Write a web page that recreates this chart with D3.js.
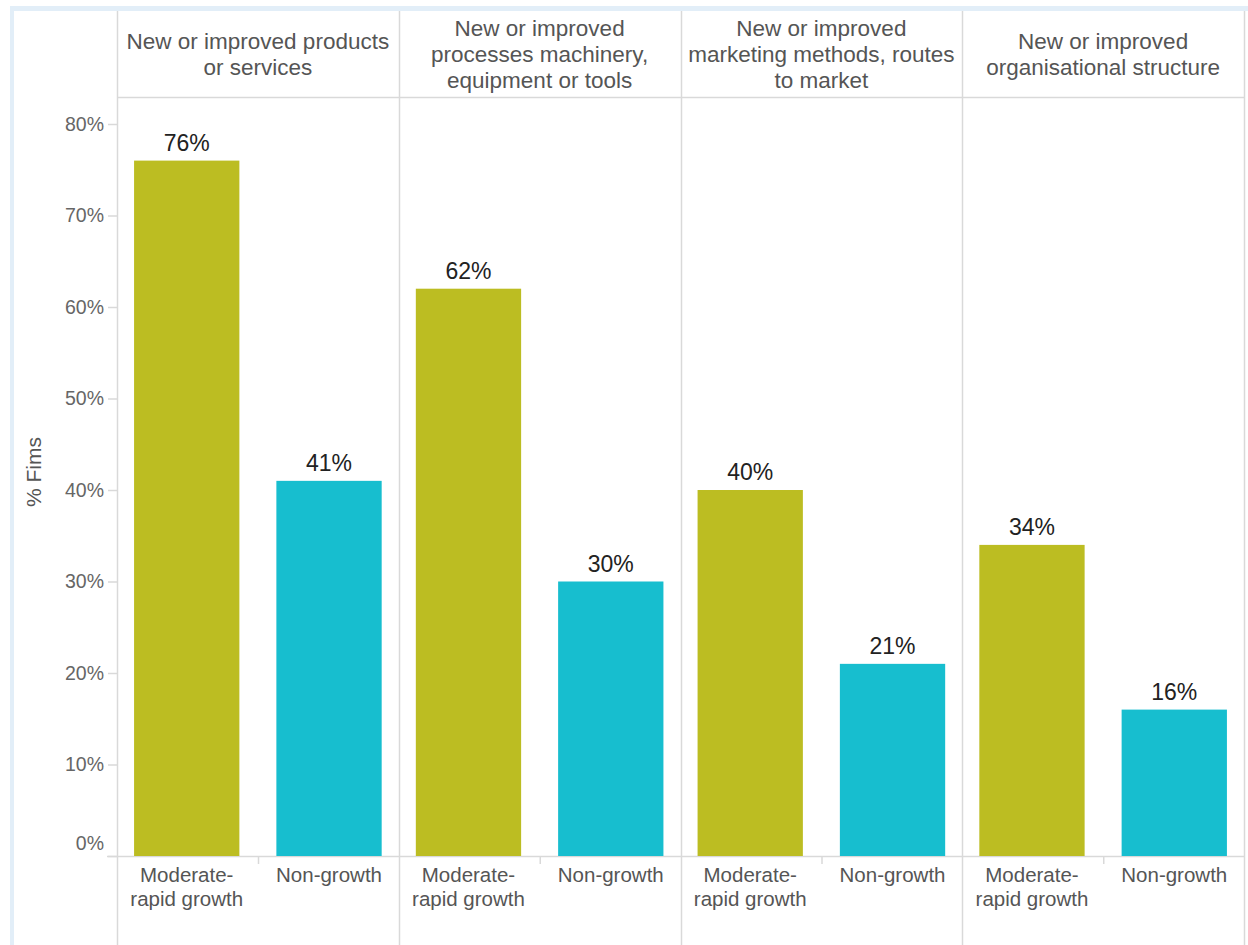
<!DOCTYPE html>
<html>
<head>
<meta charset="utf-8">
<script src="https://cdn.jsdelivr.net/npm/d3@7"></script>
<style>
  html, body { margin: 0; padding: 0; background: #ffffff; }
  svg { display: block; font-family: "Liberation Sans", Arial, sans-serif; }
</style>
</head>
<body>
<svg id="chart" width="1248" height="945"></svg>
<script>
// ---- data ----
const panels = [
  "New or improved products or services",
  "New or improved processes machinery, equipment or tools",
  "New or improved marketing methods, routes to market",
  "New or improved organisational structure"
];
const panelLines = [
  ["New or improved products", "or services"],
  ["New or improved", "processes machinery,", "equipment or tools"],
  ["New or improved", "marketing methods, routes", "to market"],
  ["New or improved", "organisational structure"]
];
const groups = ["Moderate-rapid growth", "Non-growth"];
const groupLines = [["Moderate-", "rapid growth"], ["Non-growth"]];
const moderateValues = [0.76, 0.62, 0.40, 0.34];
const nonGrowthValues = [0.41, 0.30, 0.21, 0.16];
const yTicks = [0, 0.1, 0.2, 0.3, 0.4, 0.5, 0.6, 0.7, 0.8];
const colors = ["#bcbd22", "#17becf"];

// ---- layout ----
const svg = d3.select("#chart");
const W = 1248, H = 945;
const topY = 11, headerBottom = 97, baseY = 856, yTop = 124;
const leftX = 117, rightX = 1244;

// background frame
svg.append("rect").attr("x", 10).attr("y", 6).attr("width", W).attr("height", H).attr("fill", "#e2eef8");
svg.append("rect").attr("x", 14).attr("y", topY).attr("width", W).attr("height", H).attr("fill", "#ffffff");

const xPanel = d3.scaleBand().domain(panels).range([leftX, rightX]).padding(0);
const xInner = d3.scaleBand().domain(groups).range([0, xPanel.bandwidth()]).paddingInner(0.26).paddingOuter(0.12);
const y = d3.scaleLinear().domain([0, 0.8]).range([baseY, yTop]);

const lineColor = "#d9d9d9";

// header horizontal line
svg.append("line").attr("x1", leftX).attr("x2", rightX).attr("y1", headerBottom + 0.5).attr("y2", headerBottom + 0.5)
  .attr("stroke", lineColor).attr("stroke-width", 1.5);

// x-axis baseline
svg.append("line").attr("x1", 107).attr("x2", rightX).attr("y1", baseY + 0.5).attr("y2", baseY + 0.5)
  .attr("stroke", lineColor).attr("stroke-width", 1.5);

// panel vertical lines
const edges = panels.map(p => xPanel(p)).concat([rightX]);
svg.selectAll("line.vline").data(edges).join("line").attr("class", "vline")
  .attr("x1", d => Math.round(d) + 0.5).attr("x2", d => Math.round(d) + 0.5)
  .attr("y1", topY).attr("y2", H)
  .attr("stroke", lineColor).attr("stroke-width", 1.5);

// y axis
const yAxis = d3.axisLeft(y).tickValues(yTicks).tickFormat(d3.format(".0%")).tickSize(9).tickPadding(4);
const gy = svg.append("g").attr("transform", `translate(${leftX},0)`).call(yAxis);
gy.select(".domain").remove();
gy.selectAll(".tick line").attr("stroke", lineColor).attr("stroke-width", 1.5);
gy.selectAll(".tick text").attr("fill", "#666").style("font-size", "19.5px").style("font-family", "Liberation Sans, Arial, sans-serif");
// the 0% label sits just above the baseline
gy.selectAll(".tick").filter(d => d === 0).select("text").attr("y", -13);

// y axis title
svg.append("text").attr("transform", "translate(41,472) rotate(-90)")
  .attr("text-anchor", "middle").attr("fill", "#555").style("font-size", "21px").text("% Fims");

// panels
panels.forEach((p, i) => {
  const x0 = xPanel(p);
  const g = svg.append("g").attr("transform", `translate(${x0},0)`);
  const vals = [moderateValues[i], nonGrowthValues[i]];
  const data = groups.map((gname, j) => ({ gname, v: vals[j], c: colors[j], lines: groupLines[j] }));

  // header text
  const lines = panelLines[i];
  const lh = 26;
  const firstBase = (topY + headerBottom) / 2 - (lines.length - 1) * lh / 2 + 7.5;
  const ht = g.append("text").attr("text-anchor", "middle").attr("fill", "#555").style("font-size", "22.5px");
  lines.forEach((l, k) => {
    ht.append("tspan").attr("x", xPanel.bandwidth() / 2).attr("y", firstBase + k * lh).text(l);
  });

  // bars
  g.selectAll("rect.bar").data(data).join("rect").attr("class", "bar")
    .attr("x", d => xInner(d.gname))
    .attr("width", xInner.bandwidth())
    .attr("y", d => y(d.v))
    .attr("height", d => y(0) - y(d.v))
    .attr("fill", d => d.c);

  // value labels
  g.selectAll("text.val").data(data).join("text").attr("class", "val")
    .attr("x", d => xInner(d.gname) + xInner.bandwidth() / 2)
    .attr("y", d => y(d.v) - 10)
    .attr("text-anchor", "middle").attr("fill", "#222").style("font-size", "23px")
    .text(d => d3.format(".0%")(d.v));

  // category labels
  data.forEach(d => {
    const t = g.append("text").attr("text-anchor", "middle").attr("fill", "#555").style("font-size", "20.5px");
    d.lines.forEach((l, k) => {
      t.append("tspan").attr("x", xInner(d.gname) + xInner.bandwidth() / 2).attr("y", 882 + k * 24).text(l);
    });
  });

  // tick between the two categories
  const tx = Math.round(xInner(groups[1]) - xInner.step() * xInner.paddingInner() / 2) + 0.5;
  g.append("line").attr("x1", tx).attr("x2", tx).attr("y1", baseY).attr("y2", baseY + 8)
    .attr("stroke", lineColor).attr("stroke-width", 1.5);
});
</script>
</body>
</html>
